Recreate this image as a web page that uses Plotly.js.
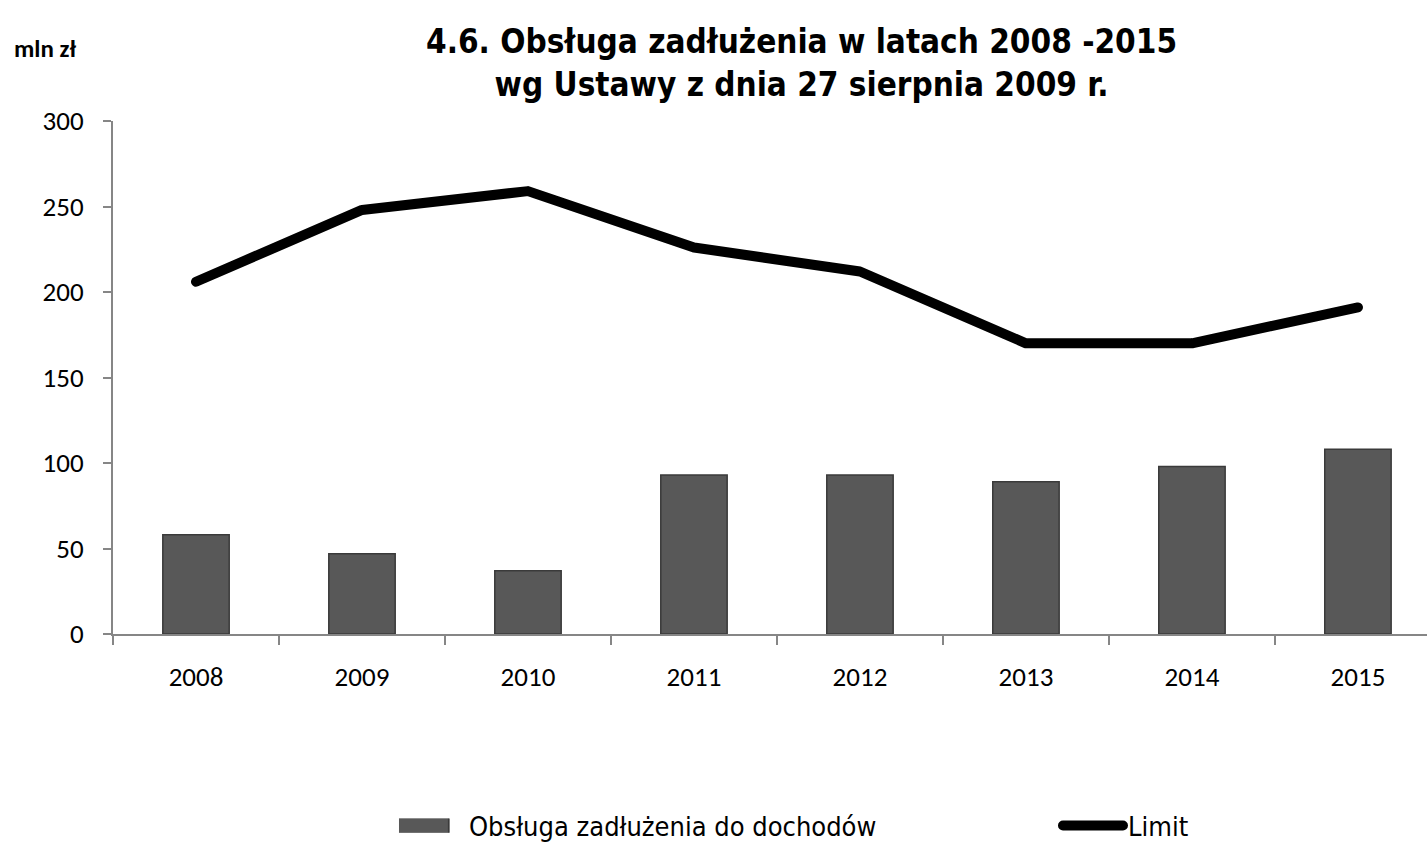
<!DOCTYPE html>
<html><head><meta charset="utf-8">
<script src="https://cdn.plot.ly/plotly-3.0.1.min.js"></script>
<style>
html,body{margin:0;padding:0;background:#fff}
.scatterlayer path.js-line, .legendlines path{stroke-linecap:round !important;stroke-linejoin:round !important}
</style>
</head><body>
<div id="chart" style="width:1427px;height:843px"></div>
<script>
const years = ['2008','2009','2010','2011','2012','2013','2014','2015'];
const obsluga = [58, 47, 37, 93, 93, 89, 98, 108];
const limit = [206, 248, 259, 226, 212, 170, 170, 191];
const yTicks = [0, 50, 100, 150, 200, 250, 300];

const calibri = 'Carlito, Lato, "Liberation Sans", sans-serif';
const narrow = '"Liberation Sans Narrow", "DejaVu Sans Condensed", "Liberation Sans", Arial, sans-serif';
const tickFont = {family: calibri, size: 27, color: '#000'};

const data = [
  {type: 'bar', x: years, y: obsluga, name: 'Obsługa zadłużenia do dochodów',
   width: 0.4, legend: 'legend',
   marker: {color: '#585858', line: {color: '#3a3a3a', width: 1.5}}},
  {type: 'scatter', mode: 'lines', x: years, y: limit, name: 'Limit', legend: 'legend2',
   line: {color: '#000', width: 10}}
];

const legendFont = {family: narrow, size: 27, color: '#000'};

const layout = {
  width: 1427, height: 843,
  margin: {l: 113, r: 0, t: 121, b: 209},
  paper_bgcolor: '#fff', plot_bgcolor: '#fff',
  showlegend: true,
  xaxis: {type: 'category', range: [-0.5, 7.416], showgrid: false,
    showline: true, linecolor: '#868686', linewidth: 2,
    ticks: 'outside', tickson: 'boundaries', ticklen: 9, tickcolor: '#868686', tickwidth: 2,
    tickfont: tickFont, ticklabelstandoff: 18, zeroline: false},
  yaxis: {range: [0, 300], tickvals: yTicks, showgrid: false,
    showline: true, linecolor: '#868686', linewidth: 2,
    ticks: 'outside', ticklen: 8, tickcolor: '#868686', tickwidth: 2,
    tickfont: tickFont, ticklabelstandoff: 14, zeroline: false},
  legend: {orientation: 'h', xref: 'container', yref: 'container', x: 0.2796, xanchor: 'left', y: 0.0202, yanchor: 'middle',
    font: legendFont, itemwidth: 60, bgcolor: 'rgba(0,0,0,0)'},
  legend2: {orientation: 'h', xref: 'container', yref: 'container', x: 0.7414, xanchor: 'left', y: 0.0202, yanchor: 'middle',
    font: legendFont, itemwidth: 60, bgcolor: 'rgba(0,0,0,0)'},
  annotations: [
    {text: '<b>4.6. Obsługa zadłużenia w latach 2008 -2015<br>wg Ustawy z dnia 27 sierpnia 2009 r.</b>',
     xref: 'paper', yref: 'paper', x: 0.524, y: 1.113, xanchor: 'center', yanchor: 'middle',
     showarrow: false, font: {family: narrow, size: 33, color: '#000'}},
    {text: '<b>mln zł</b>', xref: 'paper', yref: 'paper', x: -0.0517, y: 1.142,
     xanchor: 'center', yanchor: 'middle', showarrow: false,
     font: {family: calibri, size: 25, color: '#000'}}]
};

Plotly.newPlot('chart', data, layout, {displayModeBar: false}).then(function (gd) {
  // widen the bar legend symbol to a flat rectangle, like the original
  gd.querySelectorAll('g.legend .legendpoints path').forEach(function (p) {
    p.setAttribute('transform', 'translate(24,0) scale(4.3,1.15)');
    p.style.strokeWidth = '0.4px';
  });
});
</script>
</body></html>
